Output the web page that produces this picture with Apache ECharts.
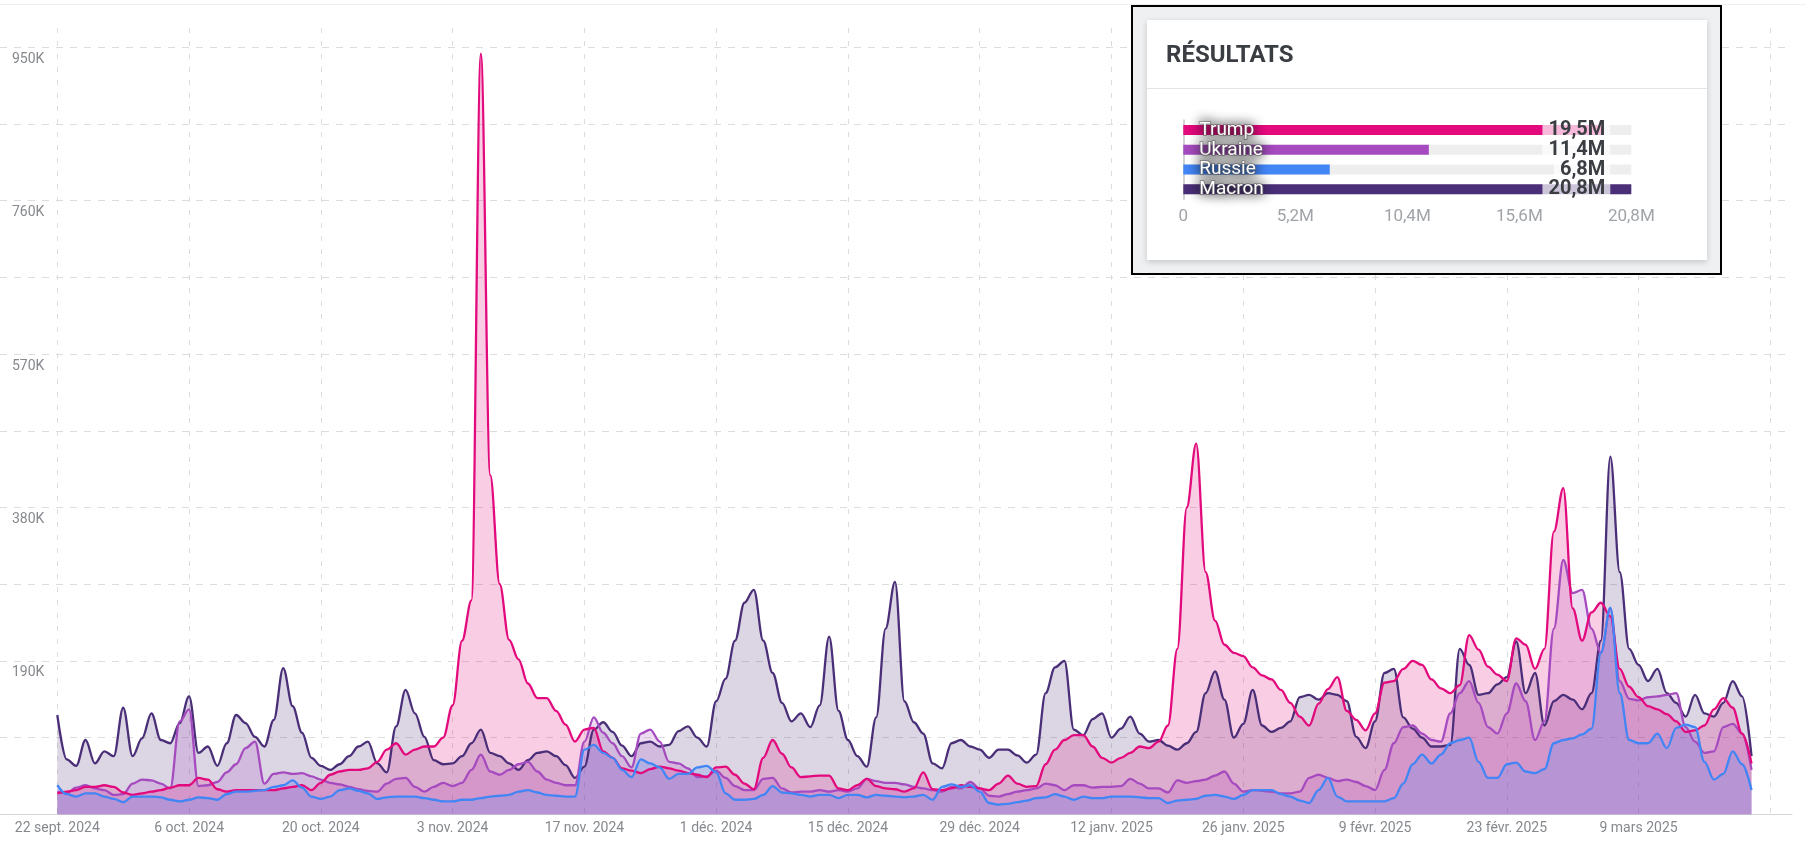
<!DOCTYPE html>
<html><head><meta charset="utf-8">
<script src="https://cdn.jsdelivr.net/npm/echarts@6/dist/echarts.min.js"></script>
<style>html,body{margin:0;padding:0;background:#fff}#c{width:1806px;height:857px}</style>
</head><body><div id="c"></div>
<script>
// Daily values (thousands of mentions), one per day from 22 sept. 2024 (day 0) to 21 mars 2025 (day 180)
const tickLabels = ['22 sept. 2024','6 oct. 2024','20 oct. 2024','3 nov. 2024','17 nov. 2024','1 déc. 2024','15 déc. 2024','29 déc. 2024','12 janv. 2025','26 janv. 2025','9 févr. 2025','23 févr. 2025','9 mars 2025'];

const trump = [26,28,30,34,34,36,34,27,24,26,28,30,33,36,36,45,43,31,28,30,
30,30,30,30,32,34,36,30,39,49,53,55,55,57,65,80,88,74,80,84,
84,95,135,215,265,942,420,285,216,192,162,144,144,128,111,90,105,107,78,70,
57,54,51,56,59,57,54,51,49,46,58,59,49,38,31,70,92,75,58,46,
47,48,48,32,30,36,44,35,32,31,28,32,52,31,30,32,36,34,32,30,
38,48,38,34,35,62,80,92,98,98,84,70,64,70,76,84,82,90,110,205,
380,459,300,240,210,200,196,182,172,167,154,138,121,110,137,155,170,128,117,104,
125,163,165,180,190,185,167,156,150,160,222,204,183,173,165,218,210,180,205,350,
404,255,215,250,262,245,180,158,145,134,130,124,115,102,104,110,130,144,132,100,63];

const ukraine = [28,26,33,36,32,30,24,25,38,43,42,38,32,115,130,35,36,40,52,62,
82,90,38,50,52,50,51,47,43,39,37,34,31,29,28,38,44,45,34,28,
34,39,35,39,55,74,53,49,55,62,65,53,43,39,36,36,90,120,101,88,
72,58,100,105,90,65,63,57,46,47,54,45,35,30,30,44,45,32,27,28,
28,30,28,30,28,32,44,41,39,39,37,34,32,30,28,34,32,40,32,23,
22,25,28,30,32,38,36,30,36,36,33,34,34,35,44,38,32,32,27,42,
39,41,43,48,53,38,28,30,29,28,26,26,28,45,49,45,41,43,40,35,
30,55,88,108,110,100,92,90,125,150,165,138,108,100,125,162,140,92,115,230,
315,274,278,230,200,255,165,143,141,145,146,148,150,108,90,76,78,108,112,100,55];

const russie = [36,25,22,26,26,22,19,15,22,22,22,21,18,16,18,21,20,18,25,28,
28,29,30,34,36,42,33,22,19,22,30,32,29,26,19,21,22,22,22,20,
18,16,16,18,18,20,22,23,24,28,30,27,24,23,22,22,80,86,76,70,
55,46,68,63,58,44,50,50,58,60,52,26,18,18,19,24,35,27,26,24,
22,24,24,20,24,24,21,24,23,22,21,22,24,18,34,37,34,36,28,14,
12,13,15,17,20,21,25,22,18,22,20,20,22,22,22,21,20,20,14,17,
18,19,23,24,22,19,24,30,30,30,25,22,17,14,30,45,22,16,16,16,
16,16,20,38,62,74,63,74,88,92,95,65,45,45,62,64,53,51,56,88,
92,94,99,106,200,256,150,92,88,88,100,82,107,111,108,65,43,50,78,62,30];

const macron = [123,68,60,92,63,78,72,132,72,94,125,92,88,113,146,76,84,60,88,123,
113,96,84,117,181,134,101,70,60,55,62,72,84,90,63,52,109,154,125,96,
67,62,63,72,88,105,76,72,63,55,67,76,78,72,61,45,59,105,114,102,
85,72,88,90,84,86,103,109,95,84,140,168,215,262,278,215,175,138,115,125,
108,135,220,128,92,72,59,120,230,288,140,114,100,63,57,88,92,84,80,70,
80,80,73,64,74,150,182,190,105,98,118,125,95,106,121,100,90,92,85,80,
88,102,150,177,142,95,112,154,110,102,107,115,145,148,142,150,148,140,96,82,
115,175,180,120,106,95,84,84,86,205,185,148,150,161,170,214,150,175,110,140,
148,142,130,150,215,443,300,205,185,165,180,150,138,121,148,125,121,138,165,146,72];

const resultNames = ['Trump','Ukraine','Russie','Macron'];
const resultValues = [19.5, 11.4, 6.8, 20.8]; // millions

const colors = {Trump:'#e20a7c', Ukraine:'#a64bbf', Russie:'#4285f4', Macron:'#4a2f78'};
const toPairs = a => a.map((v,i)=>[i,v]);
const fmtM = v => v.toFixed(1).replace('.',',') + 'M';

const Y_MAX = 973.9, X_MAX = 184.3;
const gridTop = 28, gridBottom = 42.7;

function lineSeries(name, data){
  return {
    name, type:'line', xAxisIndex:1, yAxisIndex:1, data: toPairs(data),
    smooth:0.35, smoothMonotone:'x', showSymbol:false, symbol:'none',
    lineStyle:{width:2.3, color:colors[name]},
    itemStyle:{color:colors[name]},
    areaStyle:{color:colors[name], opacity:0.2},
    z:2
  };
}

const chart = echarts.init(document.getElementById('c'), null, {renderer:'canvas'});
const dash = {type:[7,7], color:'#dcdcdc', width:1};
chart.setOption({
  animation:false,
  textStyle:{fontFamily:'Roboto'},
  grid:[
    {left:0, right:14, top:gridTop, bottom:gridBottom},
    {left:57.3, right:14, top:gridTop, bottom:gridBottom},
    {left:1183.3, right:174.7, top:120.1, bottom:657.8}
  ],
  xAxis:[
    {gridIndex:0, type:'value', min:0, max:1, axisLine:{show:true, lineStyle:{color:'#d4d4d4', width:1}},
     axisTick:{show:false}, axisLabel:{show:false}, splitLine:{show:false}},
    {gridIndex:1, type:'value', min:0, max:X_MAX, interval:14,
     axisLine:{show:false}, axisTick:{show:false},
     axisLabel:{show:true, margin:7, color:'#85898e', fontSize:14, fontFamily:'Roboto',
       formatter: v => { const k = Math.round(v/14); return (Math.abs(v - k*14) < 1e-6 && tickLabels[k]) ? tickLabels[k] : ''; },
       showMaxLabel:false},
     splitLine:{show:true, showMaxLine:false, lineStyle:{type:[5,8], color:'#dcdcdc', width:1}}},
    {gridIndex:2, type:'value', min:0, max:20.8, interval:5.2, z:60,
     axisLine:{show:false}, axisTick:{show:false}, splitLine:{show:false},
     axisLabel:{margin:9, color:'#a0a4a8', fontSize:17, fontFamily:'Roboto',
       formatter: v => v === 0 ? '0' : fmtM(v)}}
  ],
  yAxis:[
    {gridIndex:0, type:'value', min:0, max:Y_MAX, interval:95,
     axisLine:{show:false}, axisTick:{show:false},
     axisLabel:{inside:true, margin:12, align:'left', verticalAlign:'top', padding:[5,0,0,0],
       color:'#85898e', fontSize:14, fontFamily:'Roboto', showMaxLabel:false,
       formatter: v => (v > 0 && Math.abs(v/190 - Math.round(v/190)) < 1e-6) ? Math.round(v) + 'K' : ''},
     splitLine:{show:true, showMinLine:false, showMaxLine:false, lineStyle:dash}},
    {gridIndex:1, type:'value', min:0, max:Y_MAX, interval:95, show:false, splitLine:{show:false}},
    {gridIndex:2, type:'category', data:resultNames, inverse:true, z:60,
     axisLine:{show:true, lineStyle:{color:'#c4c4c4', width:1.5}}, axisTick:{show:false}, axisLabel:{show:false}},
    {gridIndex:2, type:'category', data:resultValues.map(fmtM), inverse:true, position:'right', z:62,
     axisLine:{show:false}, axisTick:{show:false},
     axisLabel:{inside:true, interval:0, margin:21, color:'#3a3d42', fontSize:20, fontWeight:'bold', fontFamily:'Roboto',
       backgroundColor:'rgba(255,255,255,0.72)', padding:[0,5,0,6], lineHeight:19}}
  ],
  series:[
    lineSeries('Macron', macron),
    lineSeries('Ukraine', ukraine),
    lineSeries('Trump', trump),
    lineSeries('Russie', russie),
    {type:'bar', xAxisIndex:2, yAxisIndex:2, z:60, barWidth:10,
     data: resultValues.map((v,i)=>({value:v, name:resultNames[i], itemStyle:{color:colors[resultNames[i]]}})),
     showBackground:true, backgroundStyle:{color:'#eeeeee'},
     label:{show:true, position:'insideLeft', distance:16, formatter:'{b}', color:'#ffffff', fontSize:19, fontFamily:'Roboto',
       textBorderColor:'rgba(110,110,110,0.55)', textBorderWidth:2,
       textShadowColor:'rgba(20,20,20,0.95)', textShadowBlur:12}}
  ],
  graphic:[
    {type:'line', z:1, shape:{x1:0,y1:4.5,x2:1806,y2:4.5}, style:{stroke:'#efefef', lineWidth:1}},
    {type:'rect', z:50, shape:{x:1132, y:6, width:589, height:268}, style:{fill:'#eef0f2', stroke:'#000', lineWidth:2}},
    {type:'rect', z:51, shape:{x:1147, y:20, width:560, height:240},
     style:{fill:'#fff', shadowBlur:6, shadowColor:'rgba(0,0,0,0.18)', shadowOffsetY:2}},
    {type:'text', z:52, style:{text:'RÉSULTATS', x:1166, y:56, font:'bold 24px Roboto', fill:'#3a3d42', verticalAlign:'middle'}},
    {type:'line', z:52, shape:{x1:1147,y1:88.5,x2:1707,y2:88.5}, style:{stroke:'#e4e4e4', lineWidth:1}}
  ]
});
</script></body></html>
